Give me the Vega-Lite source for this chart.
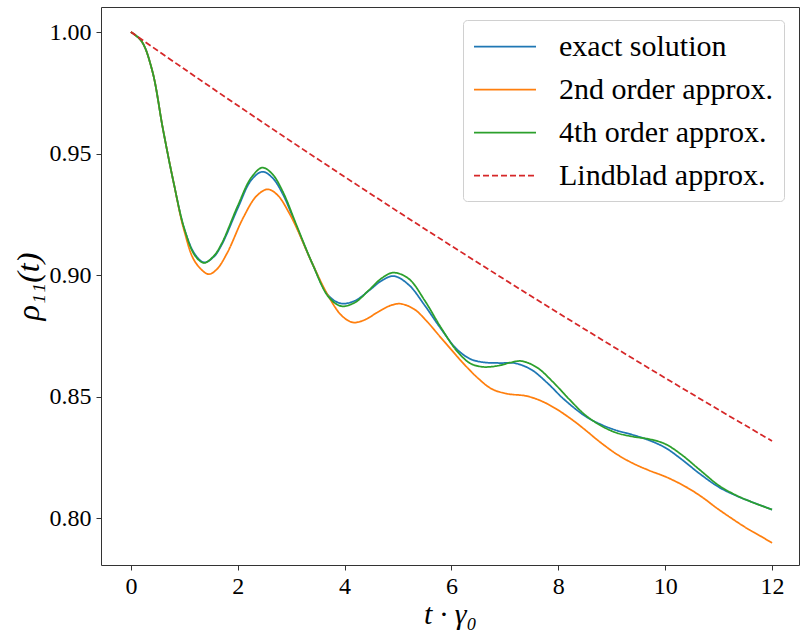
{
  "$schema": "https://vega.github.io/schema/vega-lite/v6.json",
  "autosize": "none",
  "width": 698,
  "height": 558,
  "padding": {"left": 101, "top": 7, "right": 1, "bottom": 68},
  "background": "white",
  "config": {
    "font": "Liberation Serif",
    "view": {"stroke": "#333333", "strokeWidth": 1},
    "axis": {"grid": false, "domain": false, "tickColor": "#333333", "tickSize": 5, "labelColor": "black", "labelFont": "Liberation Serif", "labelFontSize": 24, "titleFont": "Liberation Serif", "titleColor": "black", "titleFontWeight": "normal"}
  },
  "datasets": {
    "curves": [
      {"t": 0, "v": 1.0, "s": "exact solution"},
      {"t": 0.2, "v": 0.9962, "s": "exact solution"},
      {"t": 0.4, "v": 0.984, "s": "exact solution"},
      {"t": 0.6, "v": 0.960, "s": "exact solution"},
      {"t": 0.8, "v": 0.938, "s": "exact solution"},
      {"t": 1.0, "v": 0.919, "s": "exact solution"},
      {"t": 1.2, "v": 0.9085, "s": "exact solution"},
      {"t": 1.37, "v": 0.9052, "s": "exact solution"},
      {"t": 1.55, "v": 0.9075, "s": "exact solution"},
      {"t": 1.7, "v": 0.9125, "s": "exact solution"},
      {"t": 2.0, "v": 0.9275, "s": "exact solution"},
      {"t": 2.25, "v": 0.939, "s": "exact solution"},
      {"t": 2.46, "v": 0.9425, "s": "exact solution"},
      {"t": 2.65, "v": 0.940, "s": "exact solution"},
      {"t": 2.85, "v": 0.933, "s": "exact solution"},
      {"t": 3.1, "v": 0.920, "s": "exact solution"},
      {"t": 3.4, "v": 0.9045, "s": "exact solution"},
      {"t": 3.7, "v": 0.8915, "s": "exact solution"},
      {"t": 3.94, "v": 0.8883, "s": "exact solution"},
      {"t": 4.2, "v": 0.8895, "s": "exact solution"},
      {"t": 4.45, "v": 0.8935, "s": "exact solution"},
      {"t": 4.7, "v": 0.8978, "s": "exact solution"},
      {"t": 4.92, "v": 0.8996, "s": "exact solution"},
      {"t": 5.2, "v": 0.896, "s": "exact solution"},
      {"t": 5.5, "v": 0.8875, "s": "exact solution"},
      {"t": 5.8, "v": 0.878, "s": "exact solution"},
      {"t": 6.1, "v": 0.8695, "s": "exact solution"},
      {"t": 6.35, "v": 0.8655, "s": "exact solution"},
      {"t": 6.6, "v": 0.8641, "s": "exact solution"},
      {"t": 6.9, "v": 0.8638, "s": "exact solution"},
      {"t": 7.2, "v": 0.8637, "s": "exact solution"},
      {"t": 7.5, "v": 0.861, "s": "exact solution"},
      {"t": 7.8, "v": 0.8555, "s": "exact solution"},
      {"t": 8.1, "v": 0.849, "s": "exact solution"},
      {"t": 8.5, "v": 0.842, "s": "exact solution"},
      {"t": 8.8, "v": 0.8385, "s": "exact solution"},
      {"t": 9.1, "v": 0.836, "s": "exact solution"},
      {"t": 9.4, "v": 0.8342, "s": "exact solution"},
      {"t": 9.7, "v": 0.832, "s": "exact solution"},
      {"t": 10.0, "v": 0.829, "s": "exact solution"},
      {"t": 10.3, "v": 0.8243, "s": "exact solution"},
      {"t": 10.65, "v": 0.8182, "s": "exact solution"},
      {"t": 11.0, "v": 0.8128, "s": "exact solution"},
      {"t": 11.3, "v": 0.8095, "s": "exact solution"},
      {"t": 11.6, "v": 0.8068, "s": "exact solution"},
      {"t": 12.0, "v": 0.8035, "s": "exact solution"},

      {"t": 0, "v": 1.0, "s": "2nd order approx."},
      {"t": 0.2, "v": 0.9962, "s": "2nd order approx."},
      {"t": 0.4, "v": 0.984, "s": "2nd order approx."},
      {"t": 0.6, "v": 0.960, "s": "2nd order approx."},
      {"t": 0.8, "v": 0.938, "s": "2nd order approx."},
      {"t": 1.0, "v": 0.918, "s": "2nd order approx."},
      {"t": 1.2, "v": 0.9055, "s": "2nd order approx."},
      {"t": 1.45, "v": 0.9004, "s": "2nd order approx."},
      {"t": 1.6, "v": 0.9022, "s": "2nd order approx."},
      {"t": 1.8, "v": 0.909, "s": "2nd order approx."},
      {"t": 2.1, "v": 0.9235, "s": "2nd order approx."},
      {"t": 2.35, "v": 0.9325, "s": "2nd order approx."},
      {"t": 2.56, "v": 0.9353, "s": "2nd order approx."},
      {"t": 2.75, "v": 0.9328, "s": "2nd order approx."},
      {"t": 2.95, "v": 0.926, "s": "2nd order approx."},
      {"t": 3.1, "v": 0.9195, "s": "2nd order approx."},
      {"t": 3.4, "v": 0.9045, "s": "2nd order approx."},
      {"t": 3.7, "v": 0.8912, "s": "2nd order approx."},
      {"t": 3.95, "v": 0.8832, "s": "2nd order approx."},
      {"t": 4.16, "v": 0.8805, "s": "2nd order approx."},
      {"t": 4.4, "v": 0.8818, "s": "2nd order approx."},
      {"t": 4.6, "v": 0.8845, "s": "2nd order approx."},
      {"t": 4.85, "v": 0.8874, "s": "2nd order approx."},
      {"t": 5.04, "v": 0.8882, "s": "2nd order approx."},
      {"t": 5.3, "v": 0.886, "s": "2nd order approx."},
      {"t": 5.53, "v": 0.8812, "s": "2nd order approx."},
      {"t": 5.78, "v": 0.8748, "s": "2nd order approx."},
      {"t": 6.0, "v": 0.8692, "s": "2nd order approx."},
      {"t": 6.22, "v": 0.8637, "s": "2nd order approx."},
      {"t": 6.5, "v": 0.8575, "s": "2nd order approx."},
      {"t": 6.75, "v": 0.8532, "s": "2nd order approx."},
      {"t": 7.03, "v": 0.8512, "s": "2nd order approx."},
      {"t": 7.41, "v": 0.8502, "s": "2nd order approx."},
      {"t": 7.7, "v": 0.848, "s": "2nd order approx."},
      {"t": 7.97, "v": 0.8448, "s": "2nd order approx."},
      {"t": 8.3, "v": 0.8398, "s": "2nd order approx."},
      {"t": 8.53, "v": 0.8358, "s": "2nd order approx."},
      {"t": 8.78, "v": 0.8313, "s": "2nd order approx."},
      {"t": 9.1, "v": 0.8262, "s": "2nd order approx."},
      {"t": 9.4, "v": 0.8225, "s": "2nd order approx."},
      {"t": 9.7, "v": 0.8196, "s": "2nd order approx."},
      {"t": 10.03, "v": 0.8168, "s": "2nd order approx."},
      {"t": 10.4, "v": 0.8127, "s": "2nd order approx."},
      {"t": 10.7, "v": 0.8085, "s": "2nd order approx."},
      {"t": 10.96, "v": 0.8042, "s": "2nd order approx."},
      {"t": 11.25, "v": 0.7998, "s": "2nd order approx."},
      {"t": 11.53, "v": 0.7958, "s": "2nd order approx."},
      {"t": 11.8, "v": 0.7924, "s": "2nd order approx."},
      {"t": 12.0, "v": 0.7898, "s": "2nd order approx."},

      {"t": 0, "v": 1.0, "s": "4th order approx."},
      {"t": 0.2, "v": 0.9962, "s": "4th order approx."},
      {"t": 0.4, "v": 0.984, "s": "4th order approx."},
      {"t": 0.6, "v": 0.960, "s": "4th order approx."},
      {"t": 0.8, "v": 0.938, "s": "4th order approx."},
      {"t": 1.0, "v": 0.919, "s": "4th order approx."},
      {"t": 1.2, "v": 0.908, "s": "4th order approx."},
      {"t": 1.37, "v": 0.905, "s": "4th order approx."},
      {"t": 1.55, "v": 0.9078, "s": "4th order approx."},
      {"t": 1.7, "v": 0.913, "s": "4th order approx."},
      {"t": 2.0, "v": 0.9285, "s": "4th order approx."},
      {"t": 2.25, "v": 0.940, "s": "4th order approx."},
      {"t": 2.46, "v": 0.9442, "s": "4th order approx."},
      {"t": 2.65, "v": 0.9415, "s": "4th order approx."},
      {"t": 2.85, "v": 0.934, "s": "4th order approx."},
      {"t": 3.1, "v": 0.9205, "s": "4th order approx."},
      {"t": 3.4, "v": 0.9045, "s": "4th order approx."},
      {"t": 3.7, "v": 0.891, "s": "4th order approx."},
      {"t": 3.94, "v": 0.8872, "s": "4th order approx."},
      {"t": 4.2, "v": 0.8888, "s": "4th order approx."},
      {"t": 4.45, "v": 0.8937, "s": "4th order approx."},
      {"t": 4.7, "v": 0.8988, "s": "4th order approx."},
      {"t": 4.91, "v": 0.901, "s": "4th order approx."},
      {"t": 5.2, "v": 0.8985, "s": "4th order approx."},
      {"t": 5.5, "v": 0.8895, "s": "4th order approx."},
      {"t": 5.8, "v": 0.8785, "s": "4th order approx."},
      {"t": 6.1, "v": 0.8688, "s": "4th order approx."},
      {"t": 6.35, "v": 0.8637, "s": "4th order approx."},
      {"t": 6.6, "v": 0.8622, "s": "4th order approx."},
      {"t": 6.9, "v": 0.8628, "s": "4th order approx."},
      {"t": 7.1, "v": 0.864, "s": "4th order approx."},
      {"t": 7.31, "v": 0.8646, "s": "4th order approx."},
      {"t": 7.6, "v": 0.862, "s": "4th order approx."},
      {"t": 7.9, "v": 0.856, "s": "4th order approx."},
      {"t": 8.2, "v": 0.849, "s": "4th order approx."},
      {"t": 8.5, "v": 0.8425, "s": "4th order approx."},
      {"t": 8.8, "v": 0.838, "s": "4th order approx."},
      {"t": 9.1, "v": 0.835, "s": "4th order approx."},
      {"t": 9.4, "v": 0.8335, "s": "4th order approx."},
      {"t": 9.7, "v": 0.8325, "s": "4th order approx."},
      {"t": 10.0, "v": 0.8305, "s": "4th order approx."},
      {"t": 10.3, "v": 0.8262, "s": "4th order approx."},
      {"t": 10.65, "v": 0.8198, "s": "4th order approx."},
      {"t": 11.0, "v": 0.8135, "s": "4th order approx."},
      {"t": 11.3, "v": 0.8097, "s": "4th order approx."},
      {"t": 11.6, "v": 0.8068, "s": "4th order approx."},
      {"t": 12.0, "v": 0.8035, "s": "4th order approx."},

      {"t": 0, "v": 1.0, "s": "Lindblad approx."},
      {"t": 1, "v": 0.98476, "s": "Lindblad approx."},
      {"t": 2, "v": 0.96976, "s": "Lindblad approx."},
      {"t": 3, "v": 0.95498, "s": "Lindblad approx."},
      {"t": 4, "v": 0.94043, "s": "Lindblad approx."},
      {"t": 5, "v": 0.92610, "s": "Lindblad approx."},
      {"t": 6, "v": 0.91199, "s": "Lindblad approx."},
      {"t": 7, "v": 0.89809, "s": "Lindblad approx."},
      {"t": 8, "v": 0.88441, "s": "Lindblad approx."},
      {"t": 9, "v": 0.87093, "s": "Lindblad approx."},
      {"t": 10, "v": 0.85766, "s": "Lindblad approx."},
      {"t": 11, "v": 0.84459, "s": "Lindblad approx."},
      {"t": 12, "v": 0.83172, "s": "Lindblad approx."}
    ]
  },
  "data": {"name": "curves"},
  "mark": {"type": "line", "interpolate": "catmull-rom", "strokeWidth": 1.75, "clip": true},
  "encoding": {
    "x": {
      "field": "t", "type": "quantitative",
      "scale": {"domain": [-0.56, 12.505], "nice": false, "zero": false},
      "axis": {"values": [0, 2, 4, 6, 8, 10, 12], "labelPadding": 4, "title": "t · γ₀", "titleFontSize": 30, "titleFontStyle": "italic", "titlePadding": 1}
    },
    "y": {
      "field": "v", "type": "quantitative",
      "scale": {"domain": [0.7807, 1.0103], "nice": false, "zero": false},
      "axis": {"values": [0.80, 0.85, 0.90, 0.95, 1.00], "format": ".2f", "labelPadding": 5, "title": "ρ₁₁(t)", "titleFontSize": 32, "titleFontStyle": "italic", "titlePadding": 4}
    },
    "color": {
      "field": "s", "type": "nominal",
      "scale": {"domain": ["exact solution", "2nd order approx.", "4th order approx.", "Lindblad approx."], "range": ["#1f77b4", "#ff7f0e", "#2ca02c", "#d62728"]},
      "legend": {"title": null, "orient": "none", "legendX": 362, "legendY": 13, "symbolType": "M-1,0L3,0", "symbolSize": 961, "symbolStrokeWidth": 1.75, "labelFontSize": 30, "labelFont": "Liberation Serif", "labelColor": "black", "labelLimit": 0, "labelOffset": 53, "rowPadding": 11, "padding": 10, "strokeColor": "#d0d0d0", "fillColor": "white", "cornerRadius": 4}
    },
    "strokeDash": {
      "field": "s", "type": "nominal",
      "scale": {"domain": ["exact solution", "2nd order approx.", "4th order approx.", "Lindblad approx."], "range": [[1, 0], [1, 0], [1, 0], [6, 3]]},
      "legend": {"title": null, "orient": "none", "legendX": 362, "legendY": 13, "symbolType": "M-1,0L3,0", "symbolSize": 961, "symbolStrokeWidth": 1.75, "labelFontSize": 30, "labelFont": "Liberation Serif", "labelColor": "black", "labelLimit": 0, "labelOffset": 53, "rowPadding": 11, "padding": 10, "strokeColor": "#d0d0d0", "fillColor": "white", "cornerRadius": 4}
    }
  }
}
